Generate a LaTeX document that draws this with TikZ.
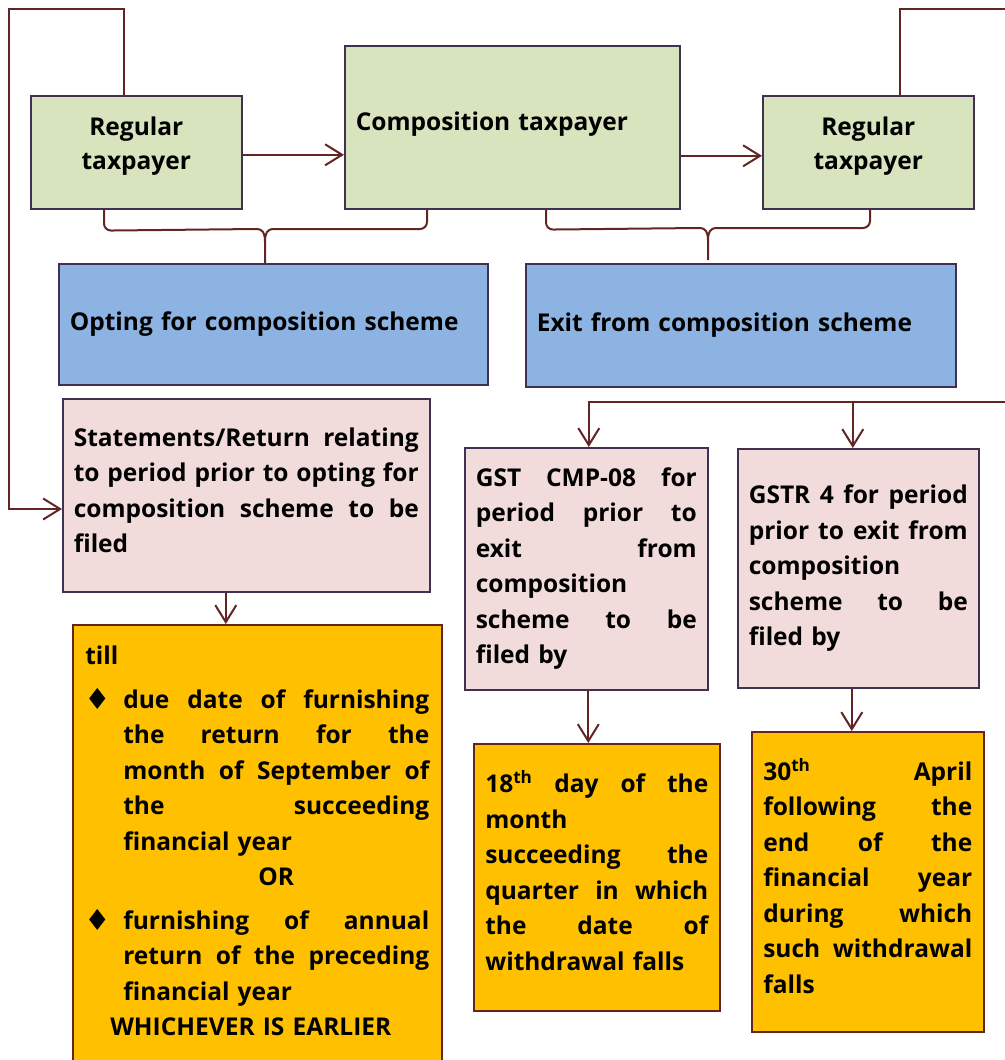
\documentclass[tikz,border=0pt]{standalone}
\usepackage{fontspec}
\setmainfont{Open Sans}
\newfontfamily\symfont{DejaVu Sans}
\usetikzlibrary{arrows.meta}

\definecolor{boxgreen}{HTML}{D7E4BD}
\definecolor{boxblue}{HTML}{8DB3E2}
\definecolor{boxpink}{HTML}{F2DCDB}
\definecolor{boxorange}{HTML}{FFC000}
\definecolor{boxline}{HTML}{403152}
\definecolor{connred}{HTML}{632523}

% a justified line of a given width (spaces stretch evenly)
\newcommand\jw[2]{\makebox[#1][s]{\spaceskip=\fontdimen2\font plus 1fil minus 0.3\fontdimen2\font\relax #2}}
% a justified line filling the full text width
\newcommand\jl[1]{\jw{\hsize}{#1}}
% extra depth under the last line, lifts the text block a little
\newcommand\dn[1]{\rule[-#1]{0pt}{#1}}
% bullet used in the deadline box
\newcommand\dia{\raisebox{-1pt}{\symfont\fontsize{29}{29}\selectfont ♦}}

\begin{document}
\begin{tikzpicture}[x=1pt,y=-1pt,
  box/.style={draw=boxline, line width=1.6pt, anchor=north west, inner ysep=0pt,
    font=\bfseries\fontsize{24.5}{35.5}\selectfont},
  greenbox/.style={box, fill=boxgreen},
  bluebox/.style={box, fill=boxblue},
  pinkbox/.style={box, fill=boxpink, align=left, inner xsep=11pt},
  orangebox/.style={box, draw=connred, fill=boxorange, align=left, inner xsep=11.5pt},
  conn/.style={draw=connred, line width=2pt},
  arr/.style={conn, -{Straight Barb[length=17pt,width=21pt]}}]

\useasboundingbox (0,0) rectangle (1004,1060);

% top row: taxpayer status
\node[greenbox, minimum width=211pt, minimum height=113pt, align=center,
  font=\bfseries\fontsize{24.5}{34}\selectfont] (regL) at (30,95) {Regular\\taxpayer\dn{18pt}};
\node[greenbox, minimum width=335pt, minimum height=163pt, text width=313pt, inner xsep=11pt, align=left] (comp) at (344,45) {Composition taxpayer\dn{12pt}};
\node[greenbox, minimum width=211pt, minimum height=113pt, align=center,
  font=\bfseries\fontsize{24.5}{34}\selectfont] (regR) at (762,95) {Regular\\taxpayer\dn{18pt}};

% schemes
\node[bluebox, minimum width=429pt, minimum height=121pt, text width=407pt, inner xsep=11pt, align=left] (opt) at (58,263) {Opting for composition scheme};
\node[bluebox, minimum width=430pt, minimum height=123pt, text width=408pt, inner xsep=11pt, align=left] (exit) at (525,263) {Exit from composition scheme};

% returns to be filed
\node[pinkbox, minimum width=367pt, minimum height=193pt, text width=345pt] (stmt) at (62,398)
  {\jl{Statements/Return relating}\\\jl{to period prior to opting for}\\\jl{composition scheme to be}\\filed\dn{10pt}};
\node[pinkbox, minimum width=243pt, minimum height=242pt, text width=221pt] (cmp) at (464,447)
  {\jl{GST CMP-08 for}\\\jl{period prior to}\\\jl{exit from}\\composition\\\jl{scheme to be}\\filed by};
\node[pinkbox, minimum width=241pt, minimum height=239pt, text width=219pt] (gstr) at (737,448)
  {\jl{GSTR 4 for period}\\\jl{prior to exit from}\\composition\\\jl{scheme to be}\\filed by};

% deadlines
\node[orangebox, minimum width=369pt, minimum height=438pt, text width=344pt, inner xsep=12.5pt] (till) at (72,624)
  {till\\[8pt]
   \makebox[38pt][l]{\hspace{-1pt}\dia}\jw{306pt}{due date of furnishing}\\
   \hspace*{38pt}\jw{306pt}{the return for the}\\
   \hspace*{38pt}\jw{306pt}{month of September of}\\
   \hspace*{38pt}\jw{306pt}{the succeeding}\\
   \hspace*{38pt}financial year\\
   \hspace*{38pt}\makebox[306pt][c]{OR}\\[8pt]
   \makebox[38pt][l]{\hspace{-1pt}\dia}\jw{306pt}{furnishing of annual}\\
   \hspace*{38pt}\jw{306pt}{return of the preceding}\\
   \hspace*{38pt}financial year\\
   \hspace*{25pt}WHICHEVER IS EARLIER\dn{6pt}};
\node[orangebox, minimum width=246pt, minimum height=267pt, text width=223pt] (d18) at (473,743)
  {\jl{18\textsuperscript{th} day of the}\\month\\\jl{succeeding the}\\\jl{quarter in which}\\\jl{the date of}\\withdrawal falls\dn{14pt}};
\node[orangebox, minimum width=232pt, minimum height=300pt, text width=209pt] (d30) at (751,731)
  {\jl{30\textsuperscript{th} April}\\\jl{following the}\\\jl{end of the}\\\jl{financial year}\\\jl{during which}\\\jl{such withdrawal}\\falls\dn{12pt}};

% horizontal transitions
\coordinate (a1) at ([yshift=-2.5pt]regL.east);
\draw[arr] (a1) -- (a1 -| comp.west);
\coordinate (a2) at ([yshift=-3.5pt]regR.west);
\draw[arr] (a2 -| comp.east) -- (a2);

% braces under the top row
\coordinate (b1) at ([xshift=74pt]regL.south west);
\coordinate (b2) at ([xshift=83pt]comp.south west);
\coordinate (b3) at ([xshift=202pt]comp.south west);
\coordinate (b4) at ([xshift=108pt]regR.south west);
\draw[conn, rounded corners=7pt] (b1) -- ++(0,21) -- (256,229);
\draw[conn] (256,229) .. controls (263,229) and (265,233) .. (265,242) -- (opt.north -| 265,0);
\draw[conn] (274,229) .. controls (267,229) and (265,233) .. (265,242);
\draw[conn, rounded corners=7pt] (274,229) -- (b2 |- 274,229) -- (b2);
\draw[conn, rounded corners=7pt] (b3) -- ++(0,20) -- (699,228);
\draw[conn] (699,228) .. controls (706,228) and (708,232) .. (708,241) -- (708,260);
\draw[conn] (717,228) .. controls (710,228) and (708,232) .. (708,241);
\draw[conn, rounded corners=7pt] (717,228) -- (b4 |- 717,228) -- (b4);

% loop back from the left regular taxpayer
\coordinate (lt) at ([xshift=94pt]regL.north west);
\coordinate (topL) at (9,9);
\coordinate (stmtIn) at ([yshift=-111pt]stmt.north west);
\draw[arr] (lt) |- (topL) |- (stmtIn);

% line leaving the right regular taxpayer
\coordinate (rt) at ([xshift=138pt]regR.north west);
\coordinate (topR) at (1012,9);
\draw[conn] (rt) |- (topR);

% feed into the exit returns
\coordinate (exR) at (1012,402);
\coordinate (c1) at ([xshift=2.5pt]cmp.north);
\coordinate (c2) at ([xshift=-5.5pt]gstr.north);
\draw[arr] (exR) -| (c1);
\draw[arr] (c2 |- exR) -- (c2);

% returns to deadlines
\coordinate (s1) at ([xshift=-20.5pt]stmt.south);
\draw[arr] (s1) -- (s1 |- till.north);
\coordinate (s2) at ([xshift=2pt]cmp.south);
\draw[arr] (s2) -- (s2 |- d18.north);
\coordinate (s3) at ([xshift=-6.5pt]gstr.south);
\draw[arr] (s3) -- (s3 |- d30.north);
\end{tikzpicture}
\end{document}
